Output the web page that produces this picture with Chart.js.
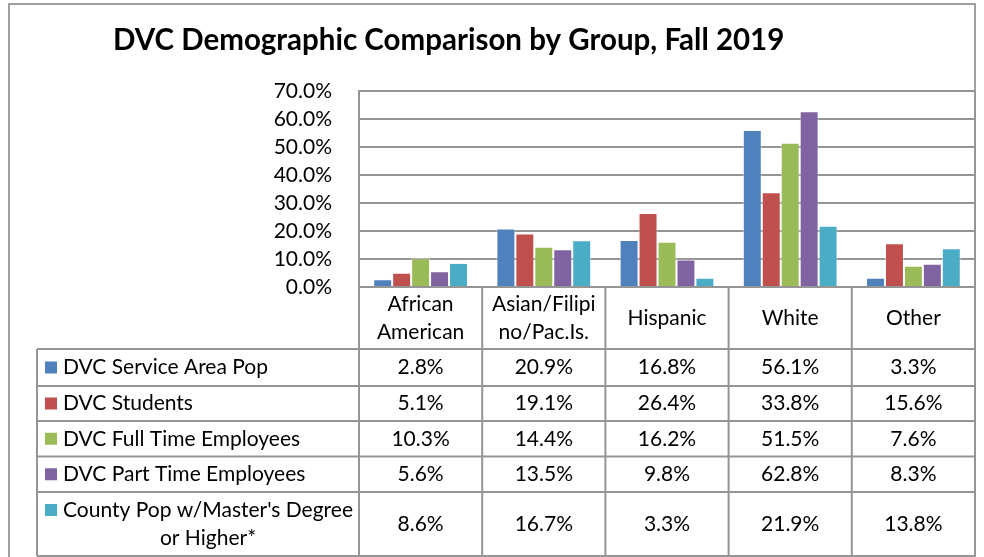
<!DOCTYPE html>
<html>
<head>
<meta charset="utf-8">
<script src="https://cdn.jsdelivr.net/npm/chart.js@4.4.0/dist/chart.umd.min.js"></script>
<style>
  html, body { margin: 0; padding: 0; background: #fff; }
  #wrap { width: 984px; height: 557px; }
</style>
</head>
<body>
<div id="wrap"><canvas id="chart" width="984" height="557"></canvas></div>
<script>
// ── DATI ─────────────────────────────────────
const CHART_TITLE = 'DVC Demographic Comparison by Group, Fall 2019';
const CATEGORIES = [
  ['African', 'American'],
  ['Asian/Filipi', 'no/Pac.Is.'],
  ['Hispanic'],
  ['White'],
  ['Other']
];
const SERIES_NAMES = [
  ['DVC Service Area Pop'],
  ['DVC Students'],
  ['DVC Full Time Employees'],
  ['DVC Part Time Employees'],
  ["County Pop w/Master's Degree", 'or Higher*']
];
const SERVICE_AREA   = [2.8, 20.9, 16.8, 56.1, 3.3];
const STUDENTS       = [5.1, 19.1, 26.4, 33.8, 15.6];
const FULL_TIME      = [10.3, 14.4, 16.2, 51.5, 7.6];
const PART_TIME      = [5.6, 13.5, 9.8, 62.8, 8.3];
const COUNTY_MASTERS = [8.6, 16.7, 3.3, 21.9, 13.8];
const Y_MAX = 70;
const Y_STEP = 10;

const SERIES_VALUES = [SERVICE_AREA, STUDENTS, FULL_TIME, PART_TIME, COUNTY_MASTERS];
const COLORS = ['#4f81bd', '#c0504d', '#9bbb59', '#8064a2', '#4bacc6'];

const FONT = 'Lato, "Open Sans", sans-serif';
const LINE = '#959595';

function pct(v) {
  return v.toFixed(1) + '%';
}

// ── TITOLO, BORDI E TABELLA DATI ─────────────

const tablePlugin = {
  id: 'dataTable',
  afterDraw(chart) {
    const { ctx, chartArea: a, scales: { x } } = chart;
    const step = x.getPixelForValue(1) - x.getPixelForValue(0);
    const edges = CATEGORIES.map((_, i) => x.getPixelForValue(i) - step / 2);
    edges.push(x.getPixelForValue(CATEGORIES.length - 1) + step / 2);
    const rows = [a.bottom, 349, 386, 421, 456.5, 492, 556];
    const tableLeft = 37;

    ctx.save();

    // bordo esterno
    ctx.strokeStyle = '#a0a0a0';
    ctx.lineWidth = 2;
    ctx.strokeRect(9, 4, a.right - 9, 600);

    // titolo
    ctx.fillStyle = '#000';
    ctx.font = 'bold 29.5px ' + FONT;
    ctx.textAlign = 'left';
    ctx.textBaseline = 'middle';
    ctx.fillText(CHART_TITLE, 113, 40);

    // bordo area grafico
    ctx.strokeStyle = LINE;
    ctx.lineWidth = 2;
    ctx.beginPath();
    ctx.moveTo(a.right, a.top);
    ctx.lineTo(a.right, a.bottom);
    ctx.stroke();

    // linee tabella
    ctx.beginPath();
    rows.forEach((y, i) => {
      ctx.moveTo(i === 0 ? a.left : tableLeft, y);
      ctx.lineTo(a.right, y);
    });
    edges.forEach(xp => {
      ctx.moveTo(xp, a.bottom);
      ctx.lineTo(xp, rows[rows.length - 1]);
    });
    ctx.moveTo(tableLeft, rows[1]);
    ctx.lineTo(tableLeft, rows[rows.length - 1]);
    ctx.stroke();

    ctx.font = '21px ' + FONT;
    ctx.fillStyle = '#000';
    ctx.textAlign = 'center';

    // intestazioni categorie
    CATEGORIES.forEach((lines, i) => {
      const cx = x.getPixelForValue(i);
      const cy = (rows[0] + rows[1]) / 2;
      lines.forEach((t, k) => {
        ctx.fillText(t, cx, cy + (k - (lines.length - 1) / 2) * 28);
      });
    });

    // righe serie
    SERIES_NAMES.forEach((lines, s) => {
      const top = rows[s + 1], bottom = rows[s + 2];
      const cy = (top + bottom) / 2;
      const firstY = cy - (lines.length - 1) / 2 * 28;

      ctx.fillStyle = COLORS[s];
      ctx.fillRect(45, firstY - 6, 12, 12);

      ctx.fillStyle = '#000';
      ctx.textAlign = 'left';
      ctx.fillText(lines[0], 63, firstY);
      if (lines.length > 1) {
        const w0 = ctx.measureText(lines[0]).width;
        ctx.textAlign = 'center';
        lines.slice(1).forEach((t, k) => ctx.fillText(t, 63 + w0 / 2, firstY + (k + 1) * 28));
      }

      ctx.textAlign = 'center';
      SERIES_VALUES[s].forEach((v, i) => {
        ctx.fillText(pct(v), x.getPixelForValue(i), cy);
      });
    });

    ctx.restore();
  }
};

// ── GRAFICO ──────────────────────────────────

const datasets = SERIES_VALUES.map((vals, s) => ({
  label: SERIES_NAMES[s].join(' '),
  data: vals,
  backgroundColor: COLORS[s],
  borderColor: 'rgba(255,255,255,0.5)',
  borderWidth: 1,
  categoryPercentage: 5 / 6.5,
  barPercentage: 1
}));

new Chart(document.getElementById('chart'), {
  type: 'bar',
  data: {
    labels: CATEGORIES.map(c => c.join(' ')),
    datasets: datasets
  },
  options: {
    responsive: false,
    animation: false,
    devicePixelRatio: 1,
    layout: { padding: { left: 239, top: 91, right: 9, bottom: 270 } },
    plugins: {
      legend: { display: false },
      title: { display: false },
      tooltip: { enabled: false }
    },
    scales: {
      x: { display: false },
      y: {
        min: 0,
        max: Y_MAX,
        afterFit: s => { s.width = 120; },
        ticks: {
          stepSize: Y_STEP,
          autoSkip: false,
          padding: 27,
          color: '#000',
          font: { family: FONT, size: 21 },
          callback: v => pct(v)
        },
        grid: { color: LINE, lineWidth: 2, drawTicks: false },
        border: { color: LINE, width: 2 }
      }
    }
  },
  plugins: [tablePlugin]
});
</script>
</body>
</html>
